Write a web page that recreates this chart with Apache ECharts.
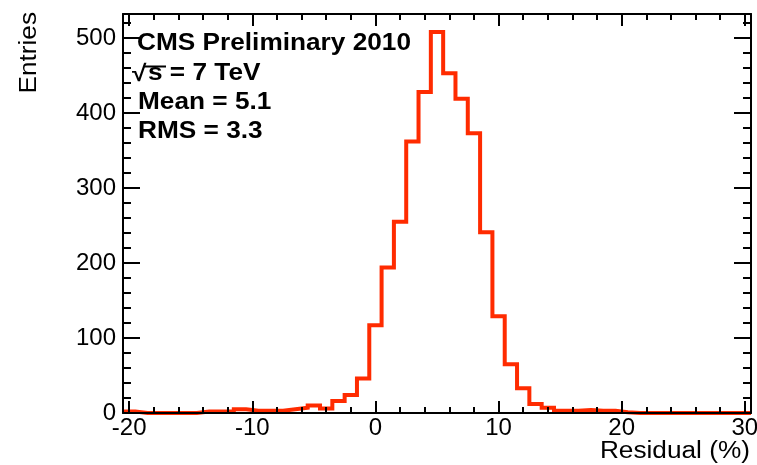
<!DOCTYPE html>
<html>
<head>
<meta charset="utf-8">
<script src="https://cdn.jsdelivr.net/npm/echarts@6/dist/echarts.min.js"></script>
<style>
html,body{margin:0;padding:0;background:#fff;}
#chart{width:757px;height:465px;}
</style>
</head>
<body>
<div id="chart"></div>
<script>
// Bin centres (Residual, %), bin width 1
const binCenters = [-20,-19,-18,-17,-16,-15,-14,-13,-12,-11,-10,-9,-8,-7,-6,-5,-4,-3,-2,-1,
  0,1,2,3,4,5,6,7,8,9,10,11,12,13,14,15,16,17,18,19,20,21,22,23,24,25,26,27,28,29,30];
// Entries per bin
const entries = [2,0,0,0,0,0,2,2,2,5,3,3,3,5,7,10,6,16,24,46,
  117,194,255,362,428,508,453,419,373,241,129,65,33,12,7,3,3,4,3,3,1,0,0,0,0,0,0,0,0,0,0];
const binWidth = 1;

const xMajorTicks = [-20,-10,0,10,20,30];
const xMinorTicks = [-18,-16,-14,-12,-8,-6,-4,-2,2,4,6,8,12,14,16,18,22,24,26,28];
const yMajorTicks = [0,100,200,300,400,500];
const yMinorTicks = [20,40,60,80,120,140,160,180,220,240,260,280,320,340,360,380,420,440,460,480,520];

const xRange = [-20.5, 30.5];
const yRange = [0, 532];

const textLines = ['CMS Preliminary 2010', 'Mean = 5.1', 'RMS = 3.3'];
const sqrtSign = '\u221A';
const energyText = 's = 7 TeV';
const xTitle = 'Residual (%)';
const yTitle = 'Entries';

// build histogram outline points (bin low edges + final high edge)
const stepData = binCenters.map((c, i) => [c - binWidth / 2, entries[i]]);
stepData.push([binCenters[binCenters.length - 1] + binWidth / 2, entries[entries.length - 1]]);

const FONT = 'Liberation Sans';
const black = '#000';

function xAx(pos, ticks, len, withLabel, showLine) {
  return {
    type: 'value', min: xRange[0], max: xRange[1], position: pos, z: 5,
    axisLine: { show: showLine, onZero: false, lineStyle: { color: black, width: 2 } },
    axisTick: { show: true, inside: true, length: len, customValues: ticks, lineStyle: { color: black, width: 2 } },
    axisLabel: withLabel ? { show: true, customValues: ticks, color: black, fontSize: 24, fontFamily: FONT, margin: 3 } : { show: false },
    splitLine: { show: false }
  };
}
function yAx(pos, ticks, len, withLabel, showLine) {
  return {
    type: 'value', min: yRange[0], max: yRange[1], position: pos, z: 5,
    axisLine: { show: showLine, onZero: false, lineStyle: { color: black, width: 2 } },
    axisTick: { show: true, inside: true, length: len, customValues: ticks, lineStyle: { color: black, width: 2 } },
    axisLabel: withLabel ? { show: true, customValues: ticks, color: black, fontSize: 24, fontFamily: FONT, margin: 7 } : { show: false },
    splitLine: { show: false }
  };
}

const chart = echarts.init(document.getElementById('chart'), null, { renderer: 'canvas' });
const sx = 1.14;
function boldText(txt, x, y) {
  return { type: 'text', x: x, y: y, scaleX: sx, z: 10,
    style: { text: txt, fontSize: 23, fontWeight: 'bold', fontFamily: FONT, fill: black, align: 'left', verticalAlign: 'middle' } };
}
const option = {
  animation: false,
  backgroundColor: '#fff',
  grid: { left: 123, top: 14, width: 628, height: 399, containLabel: false, outerBoundsMode: 'none' },
  xAxis: [
    xAx('bottom', xMajorTicks, 12, true, true),
    xAx('bottom', xMinorTicks, 6, false, false),
    xAx('top', xMajorTicks, 12, false, true),
    xAx('top', xMinorTicks, 6, false, false)
  ],
  yAxis: [
    yAx('left', yMajorTicks, 17, true, true),
    yAx('left', yMinorTicks, 8, false, false),
    yAx('right', yMajorTicks, 17, false, true),
    yAx('right', yMinorTicks, 8, false, false)
  ],
  series: [{
    type: 'line',
    xAxisIndex: 0, yAxisIndex: 0,
    step: 'end',
    data: stepData,
    symbol: 'none',
    z: 2,
    lineStyle: { color: '#ff2b00', width: 4, join: 'miter', cap: 'butt' }
  }],
  graphic: [
    boldText(textLines[0], 137, 44),
    boldText(sqrtSign, 132, 75),
    boldText(energyText, 148, 74),
    { type: 'line', z: 10, shape: { x1: 144, y1: 66.5, x2: 166, y2: 66.5 }, style: { stroke: black, lineWidth: 2 } },
    boldText(textLines[1], 138, 103),
    boldText(textLines[2], 138, 132),
    { type: 'text', x: 750, y: 452, scaleX: sx, z: 10,
      style: { text: xTitle, fontSize: 23, fontFamily: FONT, fill: black, align: 'right', verticalAlign: 'middle' } },
    { type: 'text', x: 30, y: 12, rotation: Math.PI / 2, scaleX: sx, z: 10,
      style: { text: yTitle, fontSize: 23, fontFamily: FONT, fill: black, align: 'right', verticalAlign: 'middle' } }
  ]
};
chart.setOption(option);
</script>
</body>
</html>
